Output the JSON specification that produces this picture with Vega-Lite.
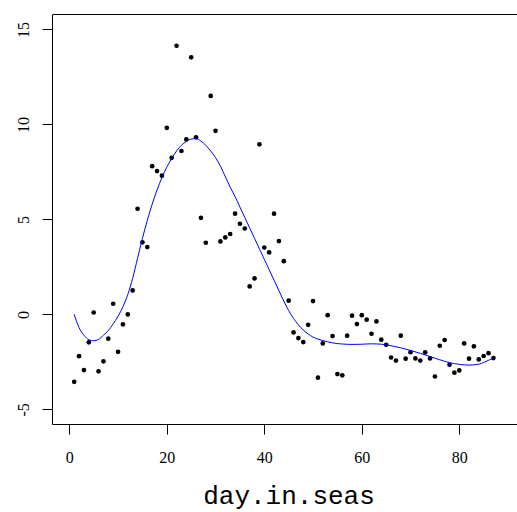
{
  "$schema": "https://vega.github.io/schema/vega-lite/v6.json",
  "width": 465,
  "height": 410,
  "autosize": {"type": "none"},
  "padding": {"left": 52, "top": 14, "right": 0, "bottom": 88},
  "background": "white",
  "config": {
    "view": {"stroke": "black", "strokeWidth": 1},
    "axis": {"grid": false, "domain": false, "tickColor": "black", "tickSize": 10, "labelColor": "black", "labelFont": "Liberation Serif", "labelFontSize": 16}
  },
  "datasets": {
    "pts": [
      {"day": 1, "value": -3.55}, {"day": 2, "value": -2.2}, {"day": 3, "value": -2.93}, {"day": 4, "value": -1.47},
      {"day": 5, "value": 0.1}, {"day": 6, "value": -3.0}, {"day": 7, "value": -2.47}, {"day": 8, "value": -1.28},
      {"day": 9, "value": 0.56}, {"day": 10, "value": -1.97}, {"day": 11, "value": -0.53}, {"day": 12, "value": 0.0},
      {"day": 13, "value": 1.26}, {"day": 14, "value": 5.56}, {"day": 15, "value": 3.79}, {"day": 16, "value": 3.54},
      {"day": 17, "value": 7.8}, {"day": 18, "value": 7.54}, {"day": 19, "value": 7.3}, {"day": 20, "value": 9.82},
      {"day": 21, "value": 8.24}, {"day": 22, "value": 14.14}, {"day": 23, "value": 8.6}, {"day": 24, "value": 9.21},
      {"day": 25, "value": 13.53}, {"day": 26, "value": 9.32}, {"day": 27, "value": 5.08}, {"day": 28, "value": 3.77},
      {"day": 29, "value": 11.5}, {"day": 30, "value": 9.66}, {"day": 31, "value": 3.84}, {"day": 32, "value": 4.05},
      {"day": 33, "value": 4.23}, {"day": 34, "value": 5.3}, {"day": 35, "value": 4.77}, {"day": 36, "value": 4.52},
      {"day": 37, "value": 1.47}, {"day": 38, "value": 1.89}, {"day": 39, "value": 8.95}, {"day": 40, "value": 3.52},
      {"day": 41, "value": 3.26}, {"day": 42, "value": 5.3}, {"day": 43, "value": 3.86}, {"day": 44, "value": 2.8},
      {"day": 45, "value": 0.72}, {"day": 46, "value": -0.95}, {"day": 47, "value": -1.25}, {"day": 48, "value": -1.46},
      {"day": 49, "value": -0.55}, {"day": 50, "value": 0.7}, {"day": 51, "value": -3.33}, {"day": 52, "value": -1.53},
      {"day": 53, "value": -0.04}, {"day": 54, "value": -1.14}, {"day": 55, "value": -3.14}, {"day": 56, "value": -3.21},
      {"day": 57, "value": -1.12}, {"day": 58, "value": -0.07}, {"day": 59, "value": -0.51}, {"day": 60, "value": -0.04},
      {"day": 61, "value": -0.28}, {"day": 62, "value": -1.02}, {"day": 63, "value": -0.37}, {"day": 64, "value": -1.33},
      {"day": 65, "value": -1.6}, {"day": 66, "value": -2.27}, {"day": 67, "value": -2.43}, {"day": 68, "value": -1.12},
      {"day": 69, "value": -2.33}, {"day": 70, "value": -1.99}, {"day": 71, "value": -2.32}, {"day": 72, "value": -2.43},
      {"day": 73, "value": -2.0}, {"day": 74, "value": -2.32}, {"day": 75, "value": -3.27}, {"day": 76, "value": -1.65},
      {"day": 77, "value": -1.35}, {"day": 78, "value": -2.65}, {"day": 79, "value": -3.07}, {"day": 80, "value": -2.95},
      {"day": 81, "value": -1.53}, {"day": 82, "value": -2.33}, {"day": 83, "value": -1.68}, {"day": 84, "value": -2.37},
      {"day": 85, "value": -2.19}, {"day": 86, "value": -2.04}, {"day": 87, "value": -2.3}
    ],
    "smooth": [
      {"day": 1, "value": 0.0}, {"day": 2, "value": -0.7}, {"day": 3, "value": -1.1}, {"day": 4, "value": -1.33},
      {"day": 5, "value": -1.39}, {"day": 6, "value": -1.32}, {"day": 7, "value": -1.1}, {"day": 8, "value": -0.85},
      {"day": 9, "value": -0.5}, {"day": 10, "value": -0.1}, {"day": 11, "value": 0.4}, {"day": 12, "value": 1.05},
      {"day": 13, "value": 1.9}, {"day": 14, "value": 2.95}, {"day": 15, "value": 4.0}, {"day": 16, "value": 4.95},
      {"day": 17, "value": 5.8}, {"day": 18, "value": 6.55}, {"day": 19, "value": 7.2}, {"day": 20, "value": 7.75},
      {"day": 21, "value": 8.2}, {"day": 22, "value": 8.6}, {"day": 23, "value": 8.9}, {"day": 24, "value": 9.1},
      {"day": 25, "value": 9.23}, {"day": 26, "value": 9.25}, {"day": 27, "value": 9.12}, {"day": 28, "value": 8.9},
      {"day": 29, "value": 8.6}, {"day": 30, "value": 8.25}, {"day": 31, "value": 7.8}, {"day": 32, "value": 7.25},
      {"day": 33, "value": 6.7}, {"day": 34, "value": 6.2}, {"day": 35, "value": 5.65}, {"day": 36, "value": 5.1},
      {"day": 37, "value": 4.55}, {"day": 38, "value": 4.0}, {"day": 39, "value": 3.45}, {"day": 40, "value": 2.9},
      {"day": 41, "value": 2.35}, {"day": 42, "value": 1.8}, {"day": 43, "value": 1.25}, {"day": 44, "value": 0.7},
      {"day": 45, "value": 0.2}, {"day": 46, "value": -0.22}, {"day": 47, "value": -0.55}, {"day": 48, "value": -0.83},
      {"day": 49, "value": -1.03}, {"day": 50, "value": -1.2}, {"day": 51, "value": -1.3}, {"day": 52, "value": -1.38},
      {"day": 54, "value": -1.5}, {"day": 56, "value": -1.56}, {"day": 58, "value": -1.58}, {"day": 60, "value": -1.57},
      {"day": 62, "value": -1.55}, {"day": 64, "value": -1.57}, {"day": 66, "value": -1.65}, {"day": 68, "value": -1.76},
      {"day": 70, "value": -1.9}, {"day": 72, "value": -2.05}, {"day": 74, "value": -2.22}, {"day": 76, "value": -2.39},
      {"day": 78, "value": -2.54}, {"day": 80, "value": -2.63}, {"day": 82, "value": -2.67}, {"day": 84, "value": -2.62},
      {"day": 85, "value": -2.53}, {"day": 86, "value": -2.42}, {"day": 87, "value": -2.3}
    ]
  },
  "encoding": {
    "x": {
      "field": "day", "type": "quantitative",
      "scale": {"domain": [-3.55, 91.84], "nice": false, "zero": false},
      "axis": {
        "values": [0, 20, 40, 60, 80], "labelBaseline": "alphabetic", "labelPadding": 28,
        "title": "day.in.seas", "titleFont": "Liberation Mono", "titleFontSize": 26, "titleFontWeight": "normal",
        "titleColor": "black", "titleX": 236.5, "titleY": 79, "titleBaseline": "alphabetic", "titleAnchor": "middle", "titleAlign": "center"
      }
    },
    "y": {
      "field": "value", "type": "quantitative",
      "scale": {"domain": [-5.77, 15.81], "nice": false, "zero": false},
      "axis": {
        "values": [-5, 0, 5, 10, 15], "labelAngle": -90, "labelAlign": "center", "labelBaseline": "alphabetic",
        "labelPadding": 14, "title": null,
        "labelExpr": "datum.value < 0 ? '-' + abs(datum.value) : '' + datum.value"
      }
    }
  },
  "layer": [
    {
      "data": {"name": "pts"},
      "mark": {"type": "circle", "size": 22, "color": "black", "opacity": 1}
    },
    {
      "data": {"name": "smooth"},
      "mark": {"type": "line", "color": "#0000FF", "strokeWidth": 1, "interpolate": "monotone"}
    }
  ]
}
